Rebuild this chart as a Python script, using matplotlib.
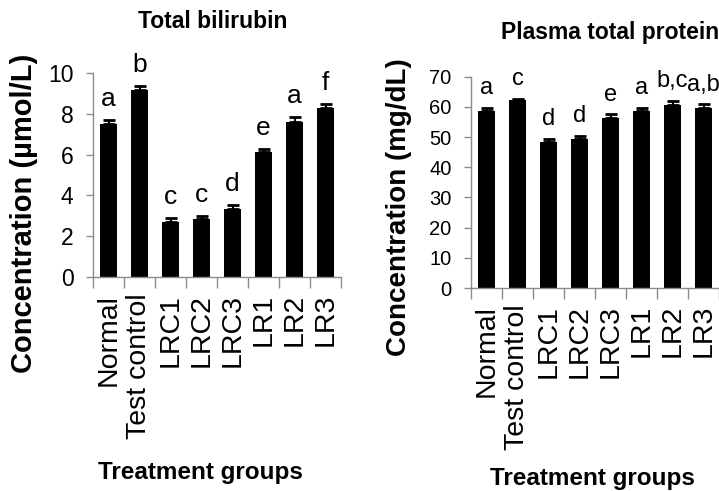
import numpy as np
import matplotlib
matplotlib.use("Agg")
import matplotlib.pyplot as plt

groups = ["Normal", "Test control", "LRC1", "LRC2", "LRC3", "LR1", "LR2", "LR3"]

bilirubin = [7.50, 9.15, 2.72, 2.85, 3.35, 6.13, 7.58, 8.26]
bilirubin_err = [0.20, 0.20, 0.17, 0.15, 0.20, 0.15, 0.25, 0.22]
bilirubin_sig = ["a", "b", "c", "c", "d", "e", "a", "f"]

protein = [58.6, 62.3, 48.5, 49.4, 56.4, 58.6, 60.5, 59.7]
protein_err = [1.1, 0.4, 1.0, 1.0, 1.1, 1.0, 1.5, 1.1]
protein_sig = ["a", "c", "d", "d", "e", "a", "b,c", "a,b"]

FONT = "Liberation Sans"

W, H = 719, 491
fig = plt.figure(figsize=(W / 100, H / 100), dpi=100)


def px_axes(x0, x1, y_top, y_bot):
    return fig.add_axes([x0 / W, 1 - y_bot / H, (x1 - x0) / W, (y_bot - y_top) / H])


def draw_panel(ax, vals, errs, sig, ymax, ystep, tick_size, sig_size):
    x = np.arange(len(groups))
    ax.bar(x, vals, width=0.56, color="black", zorder=2)
    ax.errorbar(x, vals, yerr=[np.zeros(len(vals)), errs], fmt="none",
                ecolor="black", elinewidth=1.5, capsize=4, capthick=2, zorder=3)
    for xi, v, e, s in zip(x, vals, errs, sig):
        ax.annotate(s, (xi, v + e), xytext=(0, 10), textcoords="offset points",
                    ha="center", va="baseline", fontsize=sig_size, family=FONT,
                    annotation_clip=False)
    ax.set_xlim(-0.5, len(groups) - 0.5)
    ax.set_ylim(0, ymax)
    ticks = np.arange(0, ymax + 0.01, ystep)
    ax.set_yticks(ticks)
    ax.set_yticklabels([f"{v:g}" for v in ticks], family=FONT, fontsize=tick_size)
    ax.set_xticks(x)
    ax.set_xticklabels(groups, rotation=90, family=FONT, fontsize=20.5)
    ax.set_xticks(np.arange(-0.5, len(groups)), minor=True)
    ax.tick_params(axis="x", which="major", length=0, pad=12)
    ax.tick_params(axis="x", which="minor", length=8, width=1, color="#8c8c8c")
    ax.tick_params(axis="y", length=5, width=1, color="#8c8c8c", pad=9)
    for side in ("top", "right"):
        ax.spines[side].set_visible(False)
    for side in ("left", "bottom"):
        ax.spines[side].set_color("#8c8c8c")
        ax.spines[side].set_linewidth(1)


ax1 = px_axes(93, 341, 73, 277)
draw_panel(ax1, bilirubin, bilirubin_err, bilirubin_sig, 10, 2, 16.5, 19)

ax2 = px_axes(471, 719, 76.7, 288)
draw_panel(ax2, protein, protein_err, protein_sig, 70, 10, 14.5, 17)

fig.text(213 / W, 1 - 22 / H, "Total bilirubin", ha="center", va="center",
         family=FONT, fontweight="bold", fontsize=16.5)
fig.text(610 / W, 1 - 32 / H, "Plasma total protein", ha="center", va="center",
         family=FONT, fontweight="bold", fontsize=16.5)

fig.text(24 / W, 1 - 213 / H, "Concentration (µmol/L)", rotation=90,
         ha="center", va="center", family=FONT, fontweight="bold", fontsize=21)
fig.text(399 / W, 1 - 207 / H, "Concentration (mg/dL)", rotation=90,
         ha="center", va="center", family=FONT, fontweight="bold", fontsize=20)

fig.text(200 / W, 1 - 473 / H, "Treatment groups", ha="center", va="center",
         family=FONT, fontweight="bold", fontsize=17.5)
fig.text(592 / W, 1 - 478 / H, "Treatment groups", ha="center", va="center",
         family=FONT, fontweight="bold", fontsize=17.5)

fig.savefig("out.png", dpi=100)
